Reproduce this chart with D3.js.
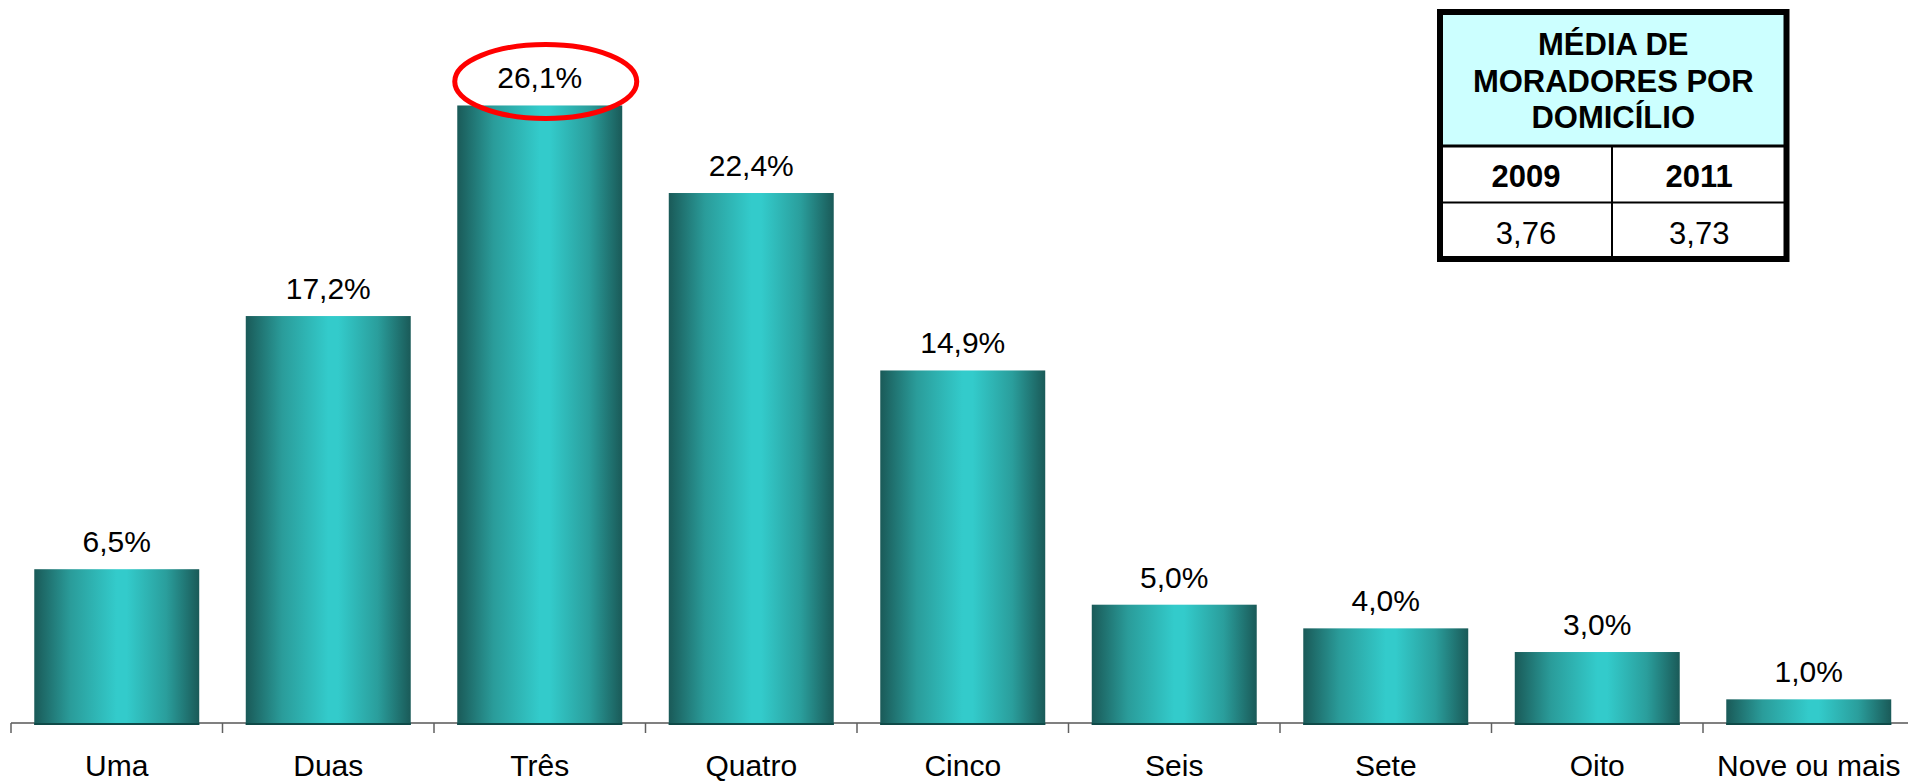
<!DOCTYPE html>
<html><head><meta charset="utf-8">
<script src="https://cdn.jsdelivr.net/npm/d3@7"></script>
<style>html,body{margin:0;padding:0;background:#fff;overflow:hidden}svg{display:block}</style>
</head><body>
<svg id="c" width="1908" height="783"></svg>
<script>
const categories = ["Uma","Duas","Três","Quatro","Cinco","Seis","Sete","Oito","Nove ou mais"];
const values = [6.5,17.2,26.1,22.4,14.9,5.0,4.0,3.0,1.0];
const tableTitle = ["MÉDIA DE","MORADORES POR","DOMICÍLIO"];
const tableYears = ["2009","2011"];
const tableValues = ["3,76","3,73"];
const highlight = "Três";

const svg = d3.select("#c");
const font = "Arial, 'Liberation Sans', sans-serif";
const fmt = v => d3.format(".1f")(v).replace(".", ",") + "%";

const x = d3.scaleBand().domain(categories).range([11, 11 + 9*211.5]).paddingInner(0.22).paddingOuter(0.11);
const y = d3.scaleLinear().domain([0, 30]).range([723, 723 - 30*23.66]);

const defs = svg.append("defs");
const g = defs.append("linearGradient").attr("id","barg").attr("x1","0").attr("x2","1").attr("y1","0").attr("y2","0");
[[0,"#1a5a58"],[0.22,"#2a9c9a"],[0.5,"#33cbcb"],[0.56,"#33cbcb"],[0.8,"#2a9e9c"],[1,"#1a5a58"]]
  .forEach(([o,c]) => g.append("stop").attr("offset",o).attr("stop-color",c));

// axis
const axisG = svg.append("g").attr("transform","translate(0,723)");
const axis = d3.axisBottom(x).tickSize(0).tickFormat("");
axisG.call(axis);
axisG.select(".domain").attr("stroke","#808080").attr("stroke-width",2).attr("d","M11,0H1908");
const bounds = d3.range(categories.length + 1).map(i => 11 + i*x.step());
axisG.selectAll("line.b").data(bounds).join("line").attr("class","b")
  .attr("x1",d=>d).attr("x2",d=>d).attr("y1",0).attr("y2",10)
  .attr("stroke","#606060").attr("stroke-width",1.5);

// bars
svg.append("g").selectAll("rect").data(values).join("rect")
  .attr("x",(d,i)=>x(categories[i]))
  .attr("width",x.bandwidth())
  .attr("y",d=>y(d))
  .attr("height",d=>y(0)-y(d)+2)
  .attr("fill","url(#barg)");
svg.append("g").selectAll("rect").data(values).join("rect")
  .attr("x",(d,i)=>x(categories[i]))
  .attr("width",x.bandwidth())
  .attr("y",y(0))
  .attr("height",2)
  .attr("fill","#0f4a48");

// value labels
svg.append("g").selectAll("text").data(values).join("text")
  .attr("x",(d,i)=>x(categories[i]) + x.bandwidth()/2)
  .attr("y",d=>y(d)-17)
  .attr("text-anchor","middle")
  .attr("font-family",font).attr("font-size",30).attr("fill","#000")
  .text(d=>fmt(d));

// category labels
svg.append("g").selectAll("text").data(categories).join("text")
  .attr("x",d=>x(d)+x.bandwidth()/2)
  .attr("y",776)
  .attr("text-anchor","middle")
  .attr("font-family",font).attr("font-size",30).attr("fill","#000")
  .text(d=>d);

// highlight ellipse
const hi = categories.indexOf(highlight);
svg.append("ellipse")
  .attr("cx", x(highlight) + x.bandwidth()/2 + 6)
  .attr("cy", y(values[hi]) - 24)
  .attr("rx", 91).attr("ry", 37)
  .attr("fill","none").attr("stroke","#ff0000").attr("stroke-width",5);

// table
const T = {x0:1440, x1:1786.5, y0:12, h1:146, h2:202.5, y1:259, mid:1612};
const tg = svg.append("g");
tg.append("rect").attr("x",T.x0).attr("y",T.y0).attr("width",T.x1-T.x0).attr("height",T.h1-T.y0).attr("fill","#ccffff");
tg.append("rect").attr("x",T.x0).attr("y",T.h1).attr("width",T.x1-T.x0).attr("height",T.y1-T.h1).attr("fill","#fff");
tg.append("line").attr("x1",T.x0).attr("x2",T.x1).attr("y1",T.h1).attr("y2",T.h1).attr("stroke","#000").attr("stroke-width",3);
tg.append("line").attr("x1",T.x0).attr("x2",T.x1).attr("y1",T.h2).attr("y2",T.h2).attr("stroke","#000").attr("stroke-width",2);
tg.append("line").attr("x1",T.mid).attr("x2",T.mid).attr("y1",T.h1).attr("y2",T.y1).attr("stroke","#000").attr("stroke-width",2);
tg.append("rect").attr("x",T.x0).attr("y",T.y0).attr("width",T.x1-T.x0).attr("height",T.y1-T.y0)
  .attr("fill","none").attr("stroke","#000").attr("stroke-width",6);
const cx = (T.x0+T.x1)/2;
tg.selectAll("text.t").data(tableTitle).join("text").attr("class","t")
  .attr("x",cx).attr("y",(d,i)=>55 + i*36.5)
  .attr("text-anchor","middle").attr("font-family",font).attr("font-weight","bold").attr("font-size",31)
  .text(d=>d);
const colC = [(T.x0+T.mid)/2, (T.mid+T.x1)/2];
tg.selectAll("text.yr").data(tableYears).join("text").attr("class","yr")
  .attr("x",(d,i)=>colC[i]).attr("y",187)
  .attr("text-anchor","middle").attr("font-family",font).attr("font-weight","bold").attr("font-size",31)
  .text(d=>d);
tg.selectAll("text.v").data(tableValues).join("text").attr("class","v")
  .attr("x",(d,i)=>colC[i]).attr("y",244)
  .attr("text-anchor","middle").attr("font-family",font).attr("font-size",31)
  .text(d=>d);
</script>
</body></html>
